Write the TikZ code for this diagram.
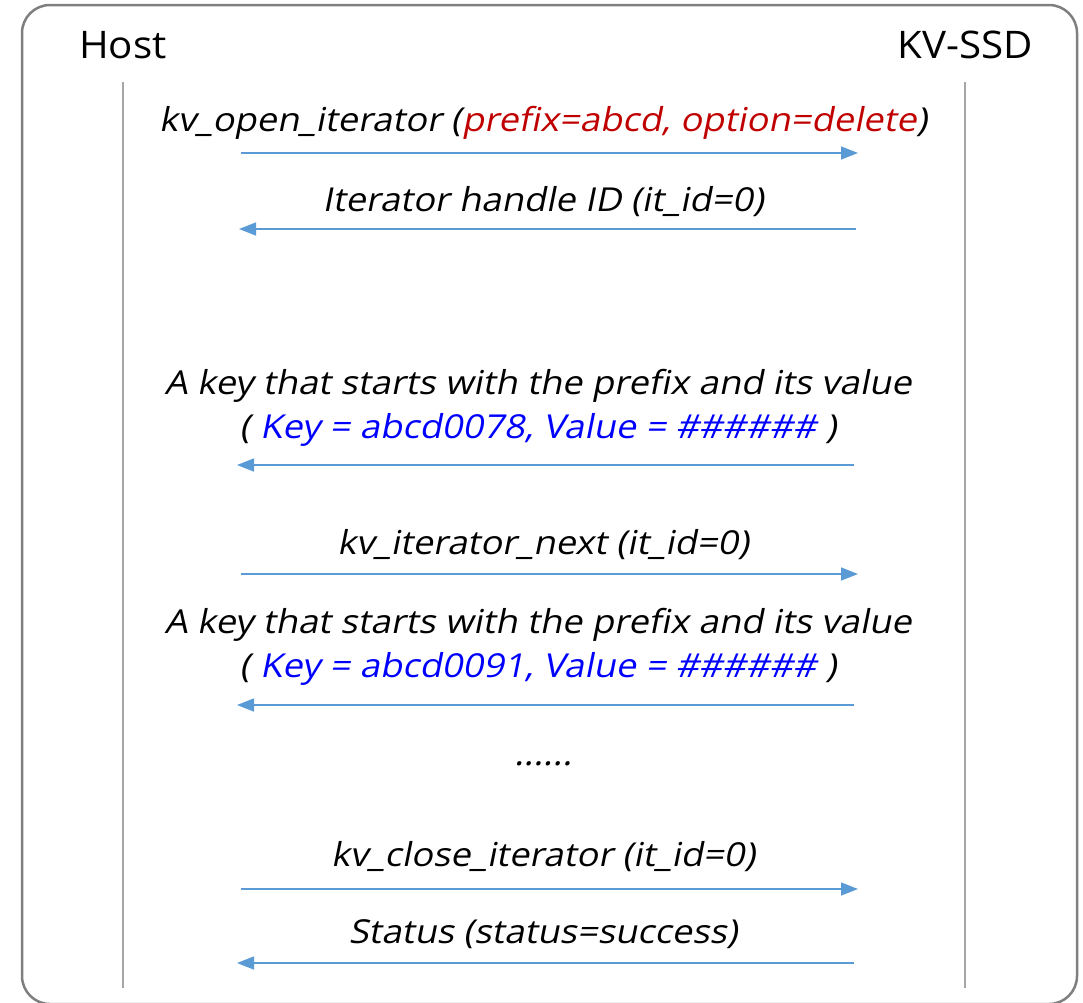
\documentclass[tikz,border=0pt]{standalone}
\usepackage{fontspec}
\setmainfont{Open Sans}
\newfontfamily\msgfont{Open Sans}[FakeSlant=0.2,FakeStretch=1.1]
\newfontfamily\actorfont{Open Sans}[FakeStretch=1.06]
\usepackage{tikz}
\usetikzlibrary{arrows.meta,positioning}
\definecolor{framegray}{RGB}{127,127,127}
\definecolor{linegray}{RGB}{166,166,166}
\definecolor{msgblue}{RGB}{91,155,213}
\definecolor{optred}{RGB}{192,0,0}
\definecolor{keyblue}{RGB}{0,0,255}
\tikzstyle{actor}=[inner sep=0pt,font=\actorfont\fontsize{38}{44}\selectfont]
\tikzstyle{msg}=[inner sep=0pt,align=center,font=\msgfont\fontsize{33}{44}\selectfont]
\tikzstyle{call}=[draw=msgblue,line width=1.5pt,-{Triangle[length=17pt,width=13pt]}]
\tikzstyle{life}=[draw=linegray,line width=1.5pt]

\begin{document}
\begin{tikzpicture}[x=1pt,y=-1pt]
\useasboundingbox (0,0) rectangle (1083,1002);
\draw[framegray,line width=2.5pt,rounded corners=28pt] (22,5) rectangle (1077,1004);
\draw (123,45) node [actor] (host) {Host};
\draw (965,45) node [actor] (ssd) {KV-SSD};
\coordinate (host top) at (123,82);
\coordinate (host bot) at (123,988);
\coordinate (ssd top) at (965,82);
\coordinate (ssd bot) at (965,988);
\draw[life] (host top) -- (host bot);
\draw[life] (ssd top) -- (ssd bot);
% open iterator
\draw (543,123) node [msg] (open) {kv\_open\_iterator ({\color{optred}prefix=abcd, option=delete})};
\coordinate (open h) at (241,153);
\coordinate (open s) at (858,153);
\draw[call] (open h) -- (open s);
\draw (543,202) node [msg] (handle) {Iterator handle ID (it\_id=0)};
\coordinate (handle s) at (856,229);
\coordinate (handle h) at (239,229);
\draw[call] (handle s) -- (handle h);
% first key
\draw (538,408) node [msg] (key1) {A key that starts with the prefix and its value\\( {\color{keyblue}Key = abcd0078, Value = \#\#\#\#\#\#} )};
\coordinate (key1 s) at (854,465);
\coordinate (key1 h) at (237,465);
\draw[call] (key1 s) -- (key1 h);
% next
\draw (543,545) node [msg] (next) {kv\_iterator\_next (it\_id=0)};
\coordinate (next h) at (241,574);
\coordinate (next s) at (858,574);
\draw[call] (next h) -- (next s);
\draw (538,647) node [msg] (key2) {A key that starts with the prefix and its value\\( {\color{keyblue}Key = abcd0091, Value = \#\#\#\#\#\#} )};
\coordinate (key2 s) at (854,705);
\coordinate (key2 h) at (237,705);
\draw[call] (key2 s) -- (key2 h);
\draw (543,764) node [msg] (dots) {......};
% close iterator
\draw (543,857) node [msg] (close) {kv\_close\_iterator (it\_id=0)};
\coordinate (close h) at (241,889);
\coordinate (close s) at (858,889);
\draw[call] (close h) -- (close s);
\draw (543,934) node [msg] (status) {Status (status=success)};
\coordinate (status s) at (854,963);
\coordinate (status h) at (237,963);
\draw[call] (status s) -- (status h);
\end{tikzpicture}
\end{document}
